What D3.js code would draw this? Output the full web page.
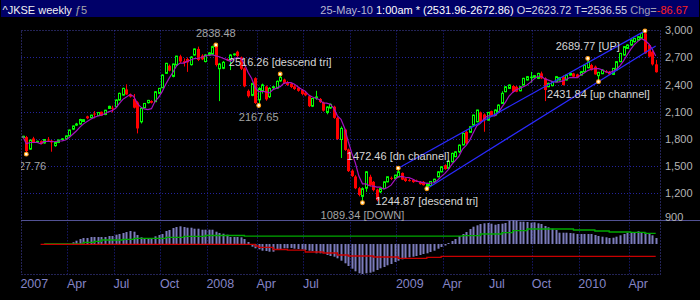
<!DOCTYPE html>
<html>
<head>
<meta charset="utf-8">
<script src="https://cdn.jsdelivr.net/npm/d3@7"></script>
<style>
  html, body { margin: 0; padding: 0; background: #000; }
  svg { display: block; font-family: "Liberation Sans", Arial, sans-serif; }
  text { white-space: pre; }
</style>
</head>
<body>
<svg width="700" height="300"></svg>
<script>
// weekly bars, first one = first week of Jan 2007, last one = week of 25-May-10
const opens = [
  1812,1817,1684,1802,1760,1772,1752,1790,1778,1722,
  1758,1790,1796,1830,1905,1950,1962,1990,2047,2032,
  2078,2055,2098,2068,2135,2142,2155,2228,2283,2346,
  2290,2240,2202,1987,2143,2198,2217,2210,2302,2364,
  2524,2608,2490,2616,2712,2660,2683,2620,2727,2794,
  2720,2655,2727,2735,2827,2575,2580,2680,2672,2730,
  2764,2700,2579,2330,2280,2470,2230,2330,2378,2265,
  2365,2360,2440,2455,2420,2410,2380,2365,2340,2310,
  2270,2160,2250,2240,2200,2090,2140,2154,2030,1790,
  1900,1680,1445,1380,1250,1160,1250,1377,1321,1235,
  1210,1247,1321,1365,1358,1377,1420,1360,1340,1345,
  1335,1320,1321,1270,1280,1320,1377,1432,1506,1470,
  1543,1600,1654,1730,1876,1870,1950,1987,2091,2068,
  2005,2105,2061,2091,2190,2320,2357,2383,2375,2330,
  2394,2450,2478,2480,2468,2523,2468,2375,2387,2431,
  2450,2487,2450,2505,2523,2512,2505,2542,2585,2616,
  2598,2498,2520,2545,2540,2512,2561,2653,2727,2800,
  2838,2875,2890,2912,2967,2838,2764,2623.72
];
const highs = [
  1832,1830,1790,1820,1778,1780,1795,1817,1785,1765,
  1790,1805,1835,1900,1945,1975,2020,2015,2055,2065,
  2105,2095,2100,2120,2165,2165,2235,2310,2365,2402,
  2300,2295,2215,2140,2195,2230,2225,2325,2362,2512,
  2640,2622,2632,2718,2730,2690,2700,2715,2800,2820,
  2735,2735,2760,2830,2838.48,2640,2660,2690,2735,2745,
  2775,2710,2590,2345,2420,2480,2370,2410,2390,2370,
  2385,2445,2516.26,2465,2440,2420,2395,2375,2350,2320,
  2280,2250,2330,2250,2210,2160,2190,2165,2040,1935,
  1910,1690,1460,1395,1265,1260,1440,1400,1330,1245,
  1250,1325,1380,1380,1400,1472.46,1425,1370,1355,1350,
  1345,1330,1330,1310,1330,1355,1440,1495,1515,1560,
  1645,1660,1735,1865,1890,1940,2065,2120,2100,2080,
  2095,2110,2125,2180,2325,2380,2400,2395,2385,2380,
  2475,2495,2540,2505,2530,2543,2480,2420,2440,2495,
  2480,2500,2510,2530,2530,2520,2550,2620,2689.77,2630,
  2610,2540,2570,2560,2550,2580,2660,2750,2825,2845,
  2900,2915,2935,2970,2995,2850,2775,2672.86
];
const lows = [
  1805,1627.76,1675,1750,1750,1735,1745,1770,1655,1710,
  1750,1782,1790,1825,1895,1940,1955,1985,2015,2025,
  2025,2050,2050,2060,2130,2090,2150,2220,2278,2285,
  2255,2135,1858,1968,2138,2190,2190,2205,2295,2360,
  2518,2545,2480,2610,2640,2600,2540,2610,2720,2660,
  2670,2645,2715,2725,2600,2216,2570,2660,2560,2720,
  2700,2560,2370,2255,2270,2185,2167.65,2300,2220,2250,
  2350,2350,2430,2405,2385,2360,2340,2320,2280,2270,
  2150,2150,2230,2195,2100,2070,2130,2020,1785,1585,
  1665,1430,1375,1240,1160,1089.34,1210,1270,1215,1105,
  1195,1240,1315,1340,1350,1370,1340,1320,1325,1310,
  1320,1290,1280,1244.87,1275,1315,1370,1425,1455,1460,
  1535,1595,1640,1725,1740,1865,1945,1980,1980,1876,
  2000,2055,2055,2085,2185,2315,2350,2315,2315,2325,
  2390,2445,2420,2470,2460,2460,2216,2370,2380,2425,
  2445,2390,2445,2500,2480,2470,2500,2535,2580,2555,
  2510,2431.84,2515,2530,2505,2505,2555,2648,2720,2795,
  2830,2865,2885,2905,2740,2700,2610,2531.96
];
const closes = [
  1826,1661,1784,1758,1770,1742,1790,1780,1758,1757,
  1784,1797,1830,1895,1940,1962,2012,2010,2025,2060,
  2070,2090,2054,2115,2158,2132,2228,2302,2357,2290,
  2265,2143,1913,2135,2190,2224,2198,2320,2357,2505,
  2635,2553,2627,2715,2655,2640,2645,2705,2794,2672,
  2679,2727,2750,2820,2616,2627,2646,2672,2727,2738,
  2716,2575,2380,2270,2410,2195,2355,2395,2235,2357,
  2375,2435,2480,2418,2395,2372,2350,2330,2295,2280,
  2160,2245,2262,2205,2110,2150,2180,2030,1795,1913,
  1675,1440,1385,1250,1175,1245,1432,1284,1229,1118,
  1247,1321,1377,1358,1395,1432,1345,1330,1335,1318,
  1325,1295,1284,1300,1325,1350,1432,1488,1462,1550,
  1636,1654,1728,1857,1747,1932,2061,2117,1987,2005,
  2091,2061,2117,2172,2302,2375,2394,2320,2320,2375,
  2468,2487,2482,2498,2523,2468,2339,2413,2431,2487,
  2476,2394,2505,2523,2487,2475,2542,2616,2653,2560,
  2512,2535,2560,2540,2512,2579,2653,2745,2820,2838,
  2893,2912,2930,2967,2745,2709,2623.22,2536.55
];
// lower panel oscillator bars
const macdHist = [
  0,0,0,0,0,0,0,0,0,0,
  0,0,0,0,17,33,50,60,60,70,
  70,70,70,70,80,80,93,100,110,120,
  130,123,90,67,57,57,57,77,90,100,
  130,140,160,170,177,170,163,163,153,153,
  143,143,143,143,123,110,103,93,70,70,
  70,67,50,20,-27,-43,-53,-67,-70,-77,
  -77,-60,-53,-43,-43,-40,-47,-50,-53,-60,
  -67,-70,-93,-93,-93,-110,-120,-127,-143,-167,
  -193,-220,-247,-273,-293,-300,-293,-287,-277,-260,
  -243,-230,-213,-200,-180,-167,-153,-143,-133,-127,
  -120,-110,-100,-93,-80,-67,-47,-30,-15,10,
  30,50,80,100,120,150,173,187,200,207,
  210,203,193,200,203,210,233,237,233,223,
  223,220,213,217,207,200,180,167,153,140,
  113,113,113,110,107,100,100,100,100,100,
  90,80,73,67,60,63,73,87,100,113,
  110,117,127,117,113,103,87,60
];
// [week, value] where the stepped lines change level
const upperSteps = [[6,0],[17,17],[20,27],[22,40],[28,47],[31,57],[40,67],[45,77],[51,85],[62,78],[123,83],[128,100],[134,113],[137,133],[141,150],[154,140],[160,130],[164,120],[170,117],[174,107],[177,107]];
const lowerSteps = [[5,-3],[65,-20],[66,-33],[70,-55],[74,-62],[79,-80],[84,-90],[88,-110],[91,-120],[98,-130],[105,-143],[113,-133],[117,-123],[177,-123]];

const priceTicks = [900, 1200, 1500, 1800, 2100, 2400, 2700, 3000];
const dateTickWeeks = [0, 13, 26, 39, 52, 66, 79, 92, 105, 118, 131, 143, 156, 170];
const dateTickLabels = ["2007", "Apr", "Jul", "Oct", "2008", "Apr", "Jul", "", "2009", "Apr", "Jul", "Oct", "2010", "Apr"];

const pivotWeeks = [1, 54, 66, 72, 95, 105, 113, 158, 161, 174];
const pivotKinds = ["low", "high", "low", "high", "low", "high", "low", "high", "low", "high"];
const pivotTags = ["", "", "", "descend tri", "DOWN", "dn channel", "descend tri", "UP", "up channel", null];

const svg = d3.select("svg");

let plotLeft = 21, plotRight = 660, plotTop = 30.4, priceBottom = 219.8, macdTop = 220, macdBottom = 274;

let x = d3.scaleLinear().domain([0, closes.length - 1]).range([22.7, 655.7]);
let step = x(1) - x(0);
let y = d3.scaleLinear().domain([900, 3000]).range([priceBottom, plotTop]);
let ym = d3.scaleLinear().domain([-300, 240]).range([macdBottom, macdTop]);
let snap = v => Math.round(v) + 0.5;
let cx = i => snap(x(i));

svg.append("rect").attr("width", 700).attr("height", 300).attr("fill", "#000");

svg.append("defs").append("clipPath").attr("id", "plotClip")
    .append("rect")
    .attr("x", plotLeft).attr("y", 28)
    .attr("width", plotRight - plotLeft).attr("height", 194);

// grid
let grid = svg.append("g")
    .attr("stroke", "#23239c")
    .attr("stroke-dasharray", "1,2");
grid.selectAll("line.h")
    .data(priceTicks.filter(v => v > 900 && v < 3000))
    .enter().append("line").attr("class", "h")
    .attr("x1", plotLeft).attr("x2", plotRight)
    .attr("y1", d => snap(y(d))).attr("y2", d => snap(y(d)));
grid.selectAll("line.v")
    .data(dateTickWeeks.slice(1))
    .enter().append("line").attr("class", "v")
    .attr("x1", d => snap(x(d) - step / 2)).attr("x2", d => snap(x(d) - step / 2))
    .attr("y1", plotTop).attr("y2", macdBottom);

svg.append("rect")
    .attr("x", snap(plotLeft)).attr("y", snap(plotTop))
    .attr("width", plotRight - plotLeft).attr("height", macdBottom - 30)
    .attr("fill", "none").attr("stroke", "#4747ac").attr("stroke-dasharray", "1,2");

svg.append("line")
    .attr("x1", plotLeft).attr("x2", 700)
    .attr("y1", snap(macdTop)).attr("y2", snap(macdTop))
    .attr("stroke", "#525294");

// lower panel
svg.append("g").attr("fill", "#7c7cbc")
    .selectAll("rect").data(macdHist).enter().append("rect")
    .attr("x", (d, i) => cx(i) - 1)
    .attr("width", 2)
    .attr("y", d => ym(Math.max(d, 0)))
    .attr("height", d => Math.abs(ym(d) - ym(0)));

let stepLine = d3.line()
    .x(d => x(d[0]))
    .y(d => ym(d[1]))
    .curve(d3.curveStepAfter);
svg.append("path").attr("d", stepLine(upperSteps))
    .attr("fill", "none").attr("stroke", "#00a800").attr("stroke-width", 1.3);
svg.append("path").attr("d", stepLine(lowerSteps))
    .attr("fill", "none").attr("stroke", "#c80000").attr("stroke-width", 1.3);

// candles
let candles = svg.append("g");
candles.selectAll("line").data(closes).enter().append("line")
    .attr("x1", (d, i) => cx(i)).attr("x2", (d, i) => cx(i))
    .attr("y1", (d, i) => y(highs[i])).attr("y2", (d, i) => y(lows[i]))
    .attr("stroke", (d, i) => d >= opens[i] ? "#00ff00" : "#ff0000");
candles.selectAll("rect").data(closes).enter().append("rect")
    .each(function(d, i) {
        let up = d >= opens[i];
        let top = y(Math.max(d, opens[i]));
        let h = Math.abs(y(d) - y(opens[i]));
        let r = d3.select(this);
        if (up) {
            r.attr("x", cx(i) - 1).attr("width", 2)
             .attr("y", top).attr("height", Math.max(h, 0.5))
             .attr("fill", "#000").attr("stroke", "#00ff00");
        } else {
            r.attr("x", cx(i) - 1.5).attr("width", 3)
             .attr("y", top).attr("height", Math.max(h, 1))
             .attr("fill", "#ff0000");
        }
    });

// 5 week average of the closes
let avg = closes.map((c, i) => d3.mean(closes.slice(Math.max(0, i - 4), i + 1)));
svg.append("path")
    .attr("d", d3.line().x((d, i) => x(i)).y(d => y(d))(avg))
    .attr("fill", "none").attr("stroke", "#a412c0").attr("stroke-width", 1.2);

// channel lines between pivots
function pivotValue(w) {
    let k = pivotKinds[pivotWeeks.indexOf(w)];
    return k == "high" ? highs[w] : lows[w];
}
function channel(a, b, end) {
    let va = pivotValue(a), vb = pivotValue(b);
    let slope = (vb - va) / (b - a);
    return [[a, va], [end, va + slope * (end - a)]];
}
let chanLine = d3.line().x(d => x(d[0])).y(d => y(d[1]));
svg.append("path").attr("d", chanLine(channel(105, 174, 174)))
    .attr("fill", "none").attr("stroke", "#2a2aff").attr("stroke-width", 1.2);
svg.append("path").attr("d", chanLine(channel(113, 161, closes.length - 1)))
    .attr("fill", "none").attr("stroke", "#2a2aff").attr("stroke-width", 1.2);

// pivot markers and their labels
let notes = svg.append("g").attr("clip-path", "url(#plotClip)");
pivotWeeks.forEach(function(w, k) {
    let v = pivotValue(w);
    let tag = pivotTags[k];
    if (tag !== null) {
        let high = pivotKinds[k] == "high";
        notes.append("text")
            .attr("x", x(w))
            .attr("y", high ? y(v) - 8.3 : y(v) + 16)
            .attr("text-anchor", "middle")
            .attr("font-size", 11)
            .attr("fill", tag && tag != "DOWN" ? "#d6d6d6" : "#a4a4a4")
            .text(d3.format(".2f")(v) + (tag ? " [" + tag + "]" : ""));
    }
    svg.append("circle")
        .attr("cx", x(w)).attr("cy", y(v)).attr("r", 1.9)
        .attr("fill", "#fffbe8").attr("stroke", "#ff9a10").attr("stroke-width", 1.1);
});

// axes text
svg.append("g").selectAll("text").data(priceTicks).enter().append("text")
    .attr("x", 665)
    .attr("y", d => Math.min(y(d) + 4, priceBottom + 1.2))
    .attr("font-size", 11)
    .attr("fill", "#b4b4b4")
    .text(d => d3.format(",")(d));

svg.append("g").selectAll("text").data(dateTickWeeks).enter().append("text")
    .attr("x", d => x(d) - step / 2 - 0.5)
    .attr("y", 287.5)
    .attr("font-family", "'Liberation Sans Narrow', 'Liberation Sans', sans-serif")
    .attr("font-size", 12.5)
    .attr("fill", "#8484c6")
    .text((d, i) => dateTickLabels[i]);

// title bar
svg.append("rect").attr("x", 1).attr("y", 0).attr("width", 698).attr("height", 17).attr("fill", "#000068");
let titleLeft = svg.append("text").attr("x", 2.5).attr("y", 13.5).attr("font-size", 11);
titleLeft.append("tspan").attr("fill", "#f2f2f2").text("^JKSE weekly ");
titleLeft.append("tspan").attr("fill", "#a8a8a8").text("ƒ5");

let titleRight = svg.append("text").attr("x", 688).attr("y", 13.5)
    .attr("font-size", 11).attr("text-anchor", "end");
titleRight.append("tspan").attr("fill", "#b8b8d0").text("25-May-10 ");
titleRight.append("tspan").attr("fill", "#ffffff").text("1:00am * (2531.96-2672.86) ");
titleRight.append("tspan").attr("fill", "#d8d8e4").text("O=2623.72 T=2536.55 ");
titleRight.append("tspan").attr("fill", "#a0a0b4").text("Chg=");
titleRight.append("tspan").attr("fill", "#ff2020").text("-86.67");
</script>
</body>
</html>
